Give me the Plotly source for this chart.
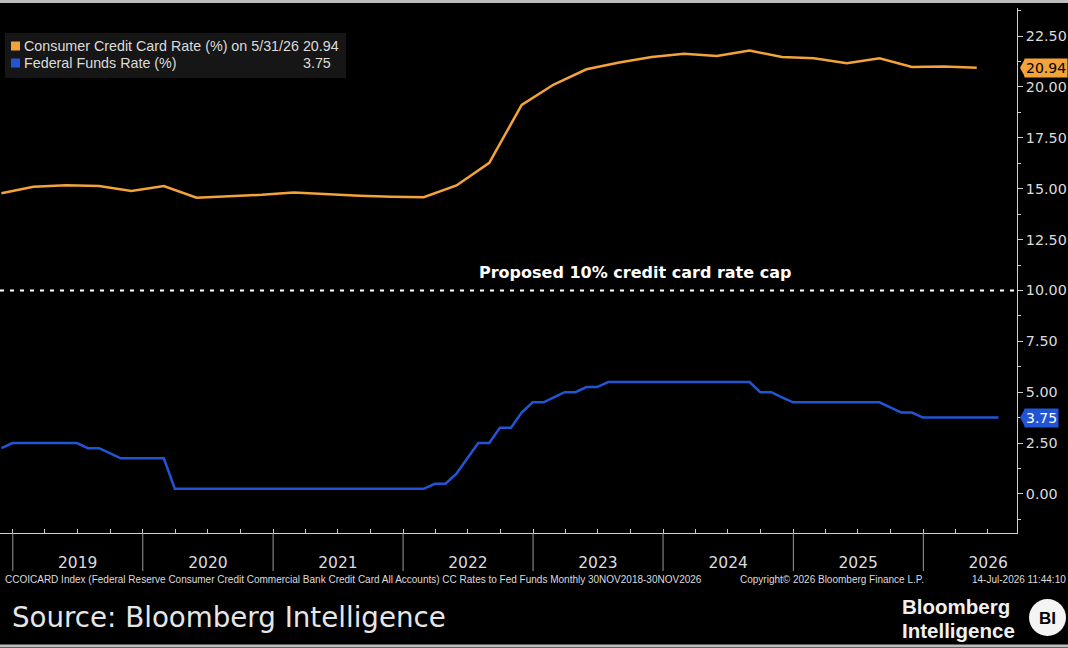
import pandas as pd
import plotly.graph_objects as go

# ---------------- data ----------------
# Consumer credit card rate (%), quarterly (end of Feb/May/Aug/Nov)
cc_dates = pd.date_range("2018-11-30", "2026-05-31", freq="3ME")
cc_values = [14.78, 15.10, 15.17, 15.13, 14.89, 15.13, 14.56, 14.62, 14.70,
             14.81, 14.72, 14.65, 14.60, 14.58, 15.16, 16.27, 19.12, 20.12,
             20.87, 21.20, 21.47, 21.63, 21.52, 21.79, 21.47, 21.41, 21.16,
             21.41, 20.98, 21.01, 20.94]

# Federal funds rate (%), monthly
ff_dates = pd.date_range("2018-11-30", "2026-07-31", freq="ME")
ff_values = [2.25, 2.50,
             2.50, 2.50, 2.50, 2.50, 2.50, 2.50, 2.25, 2.25, 2.00, 1.75, 1.75, 1.75,   # 2019
             1.75, 1.75, 0.25, 0.25, 0.25, 0.25, 0.25, 0.25, 0.25, 0.25, 0.25, 0.25,   # 2020
             0.25, 0.25, 0.25, 0.25, 0.25, 0.25, 0.25, 0.25, 0.25, 0.25, 0.25, 0.25,   # 2021
             0.25, 0.25, 0.50, 0.50, 1.00, 1.75, 2.50, 2.50, 3.25, 3.25, 4.00, 4.50,   # 2022
             4.50, 4.75, 5.00, 5.00, 5.25, 5.25, 5.50, 5.50, 5.50, 5.50, 5.50, 5.50,   # 2023
             5.50, 5.50, 5.50, 5.50, 5.50, 5.50, 5.50, 5.50, 5.00, 5.00, 4.75, 4.50,   # 2024
             4.50, 4.50, 4.50, 4.50, 4.50, 4.50, 4.50, 4.50, 4.25, 4.00, 4.00, 3.75,   # 2025
             3.75, 3.75, 3.75, 3.75, 3.75, 3.75, 3.75]                                  # 2026

years = [2019, 2020, 2021, 2022, 2023, 2024, 2025, 2026]
y_ticks = [0, 2.5, 5, 7.5, 10, 12.5, 15, 17.5, 20, 22.5]
cap_level = 10.0
cc_last = 20.94
ff_last = 3.75

ORANGE = "#f2a33a"
BLUE = "#2255d6"
GREY = "#dcdcdc"
FONT = "Liberation Sans"
TFONT = "DejaVu Sans"

# ---------------- figure ----------------
fig = go.Figure()
fig.add_trace(go.Scatter(x=cc_dates, y=cc_values, mode="lines",
                         line=dict(color=ORANGE, width=2.5), name="cc", hoverinfo="skip"))
fig.add_trace(go.Scatter(x=ff_dates, y=ff_values, mode="lines",
                         line=dict(color=BLUE, width=2.5), name="ff", hoverinfo="skip"))

W, H = 1068, 648
L, R, T, B = 0, 51, 8, 115
PW, PH = W - L - R, H - T - B

def px(x):  # pixel x -> paper
    return (x - L) / PW

def py(y):  # pixel y -> paper
    return (H - B - y) / PH

shapes = []
annotations = []

# dashed cap line
shapes.append(dict(type="line", xref="paper", yref="y", x0=0, x1=1, y0=cap_level, y1=cap_level,
                   line=dict(color="white", width=2, dash="4px,6px")))
annotations.append(dict(text="<b>Proposed 10% credit card rate cap</b>", xref="paper", yref="paper",
                        x=px(635), y=py(272), xanchor="center", yanchor="middle", showarrow=False,
                        font=dict(family=TFONT, size=16, color="white")))

# year separators below axis
for yr in years:
    shapes.append(dict(type="line", xref="x", yref="paper", x0=f"{yr}-01-01", x1=f"{yr}-01-01",
                       y0=0, y1=py(571), line=dict(color="#9a9a9a", width=1)))

# legend box
shapes.append(dict(type="rect", xref="paper", yref="paper", x0=px(5), x1=px(346), y0=py(33), y1=py(78),
                   fillcolor="#161616", line=dict(width=0), layer="below"))
for yy, col in [(46, ORANGE), (63, BLUE)]:
    shapes.append(dict(type="rect", xref="paper", yref="paper", x0=px(11), x1=px(20),
                       y0=py(yy - 4.5), y1=py(yy + 4.5), fillcolor=col, line=dict(width=0)))
annotations.append(dict(text=f"Consumer Credit Card Rate (%) on 5/31/26 {cc_last:.2f}", xref="paper", yref="paper",
                        x=px(22), y=py(46), xanchor="left", yanchor="middle", showarrow=False,
                        font=dict(family=FONT, size=14.3, color=GREY)))
annotations.append(dict(text="Federal Funds Rate (%)", xref="paper", yref="paper",
                        x=px(22), y=py(63), xanchor="left", yanchor="middle", showarrow=False,
                        font=dict(family=FONT, size=14.3, color=GREY)))
annotations.append(dict(text=f"{ff_last:.2f}", xref="paper", yref="paper",
                        x=px(333), y=py(63), xanchor="right", yanchor="middle", showarrow=False,
                        font=dict(family=FONT, size=14.3, color=GREY)))

# last-value tags on right axis
for val, col, tcol in [(cc_last, ORANGE, "black"), (ff_last, BLUE, "white")]:
    annotations.append(dict(text=f"{val:.2f}", xref="paper", yref="y", x=1, y=val,
                            xanchor="left", yanchor="middle", xshift=7, showarrow=False,
                            bgcolor=col, borderpad=1, font=dict(family=TFONT, size=14, color=tcol)))
    shapes.append(dict(type="path", xref="paper", yref="y", xsizemode="pixel", xanchor=1,
                       path=f"M 8,{val + 0.45} L 3,{val} L 8,{val - 0.45} Z",
                       fillcolor=col, line=dict(width=0)))

# footer text
foot = dict(family=FONT, size=10, color=GREY)
annotations.append(dict(text="CCOICARD Index (Federal Reserve Consumer Credit Commercial Bank Credit Card All Accounts) "
                             "CC Rates to Fed Funds Monthly 30NOV2018-30NOV2026",
                        xref="paper", yref="paper", x=px(3), y=py(579), xanchor="left", yanchor="middle",
                        showarrow=False, font=foot))
annotations.append(dict(text="Copyright© 2026 Bloomberg Finance L.P.", xref="paper", yref="paper",
                        x=px(738), y=py(579), xanchor="left", yanchor="middle", showarrow=False, font=foot))
annotations.append(dict(text="14-Jul-2026 11:44:10", xref="paper", yref="paper",
                        x=px(970), y=py(579), xanchor="left", yanchor="middle", showarrow=False, font=foot))
annotations.append(dict(text="Source: Bloomberg Intelligence", xref="paper", yref="paper",
                        x=px(10), y=py(617), xanchor="left", yanchor="middle", showarrow=False,
                        font=dict(family=TFONT, size=27.7, color="#e6e6e6")))
annotations.append(dict(text="<b>Bloomberg</b>", xref="paper", yref="paper",
                        x=px(900), y=py(606), xanchor="left", yanchor="middle", showarrow=False,
                        font=dict(family=FONT, size=20.5, color="#f0f0f0")))
annotations.append(dict(text="<b>Intelligence</b>", xref="paper", yref="paper",
                        x=px(900), y=py(630), xanchor="left", yanchor="middle", showarrow=False,
                        font=dict(family=FONT, size=20.5, color="#f0f0f0")))
shapes.append(dict(type="circle", xref="paper", yref="paper", x0=px(1029), x1=px(1066),
                   y0=py(599), y1=py(636), fillcolor="#f4f4f4", line=dict(width=0)))
annotations.append(dict(text="<b>BI</b>", xref="paper", yref="paper",
                        x=px(1047.5), y=py(618), xanchor="center", yanchor="middle", showarrow=False,
                        font=dict(family=FONT, size=17, color="black")))

# frame lines top / bottom
shapes.append(dict(type="line", xref="paper", yref="paper", x0=px(0), x1=px(W), y0=py(1.5), y1=py(1.5),
                   line=dict(color="#bdbdbd", width=3)))
shapes.append(dict(type="line", xref="paper", yref="paper", x0=px(0), x1=px(W), y0=py(646), y1=py(646),
                   line=dict(color="#bdbdbd", width=3)))

fig.update_layout(
    width=W, height=H, margin=dict(l=L, r=R, t=T, b=B),
    paper_bgcolor="black", plot_bgcolor="black", showlegend=False,
    shapes=shapes, annotations=annotations,
    xaxis=dict(type="date", range=["2018-11-26", "2026-09-21"],
               tickvals=[f"{y}-07-02" for y in years], ticktext=[str(y) for y in years],
               ticks="", ticklabelstandoff=15, showgrid=False, zeroline=False,
               showline=True, linecolor="#cfcfcf", linewidth=1,
               tickfont=dict(family=TFONT, size=15.5, color=GREY),
               minor=dict(tickvals=[str(d.date()) for d in pd.date_range("2019-01-01", "2026-09-01", freq="QS")],
                          ticks="inside", ticklen=4, tickcolor="#cfcfcf", showgrid=False)),
    yaxis=dict(side="right", range=[-1.92, 23.88], tickvals=y_ticks, tickformat=".2f",
               ticks="outside", ticklen=5, tickcolor="#cfcfcf", showgrid=False, zeroline=False,
               showline=True, linecolor="#cfcfcf", linewidth=1,
               tickfont=dict(family=TFONT, size=14.3, color=GREY),
               minor=dict(tick0=0, dtick=1.25, ticks="outside", ticklen=3, tickcolor="#cfcfcf", showgrid=False)),
)

fig.write_html("out.html", config={"displayModeBar": False},
               post_script="document.body.style.margin='0';document.body.style.background='black';")
